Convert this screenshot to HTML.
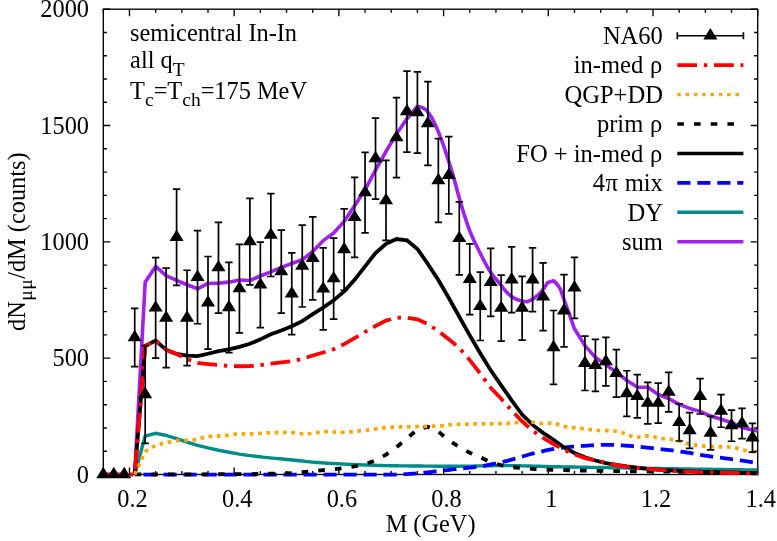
<!DOCTYPE html>
<html><head><meta charset="utf-8"><title>plot</title>
<style>html,body{margin:0;padding:0;background:#fff;}body{width:777px;height:541px;overflow:hidden;font-family:"Liberation Serif",serif;}</style>
</head><body>
<svg width="777" height="541" viewBox="0 0 777 541" style="display:block;will-change:transform">
<rect width="777" height="541" fill="#fff"/>
<rect x="103.3" y="9.2" width="654.40" height="465.30" fill="none" stroke="#000" stroke-width="1.35"/>
<path d="M103.30,474.5 v-3.6 M103.30,9.2 v3.6 M129.48,474.5 v-7.0 M129.48,9.2 v7.0 M155.65,474.5 v-3.6 M155.65,9.2 v3.6 M181.83,474.5 v-3.6 M181.83,9.2 v3.6 M208.00,474.5 v-3.6 M208.00,9.2 v3.6 M234.18,474.5 v-7.0 M234.18,9.2 v7.0 M260.36,474.5 v-3.6 M260.36,9.2 v3.6 M286.53,474.5 v-3.6 M286.53,9.2 v3.6 M312.71,474.5 v-3.6 M312.71,9.2 v3.6 M338.88,474.5 v-7.0 M338.88,9.2 v7.0 M365.06,474.5 v-3.6 M365.06,9.2 v3.6 M391.24,474.5 v-3.6 M391.24,9.2 v3.6 M417.41,474.5 v-3.6 M417.41,9.2 v3.6 M443.59,474.5 v-7.0 M443.59,9.2 v7.0 M469.76,474.5 v-3.6 M469.76,9.2 v3.6 M495.94,474.5 v-3.6 M495.94,9.2 v3.6 M522.12,474.5 v-3.6 M522.12,9.2 v3.6 M548.29,474.5 v-7.0 M548.29,9.2 v7.0 M574.47,474.5 v-3.6 M574.47,9.2 v3.6 M600.64,474.5 v-3.6 M600.64,9.2 v3.6 M626.82,474.5 v-3.6 M626.82,9.2 v3.6 M653.00,474.5 v-7.0 M653.00,9.2 v7.0 M679.17,474.5 v-3.6 M679.17,9.2 v3.6 M705.35,474.5 v-3.6 M705.35,9.2 v3.6 M731.52,474.5 v-3.6 M731.52,9.2 v3.6 M757.70,474.5 v-7.0 M757.70,9.2 v7.0 M103.3,474.50 h7.0 M757.7,474.50 h-7.0 M103.3,451.24 h3.6 M757.7,451.24 h-3.6 M103.3,427.97 h3.6 M757.7,427.97 h-3.6 M103.3,404.70 h3.6 M757.7,404.70 h-3.6 M103.3,381.44 h3.6 M757.7,381.44 h-3.6 M103.3,358.18 h7.0 M757.7,358.18 h-7.0 M103.3,334.91 h3.6 M757.7,334.91 h-3.6 M103.3,311.64 h3.6 M757.7,311.64 h-3.6 M103.3,288.38 h3.6 M757.7,288.38 h-3.6 M103.3,265.12 h3.6 M757.7,265.12 h-3.6 M103.3,241.85 h7.0 M757.7,241.85 h-7.0 M103.3,218.59 h3.6 M757.7,218.59 h-3.6 M103.3,195.32 h3.6 M757.7,195.32 h-3.6 M103.3,172.06 h3.6 M757.7,172.06 h-3.6 M103.3,148.79 h3.6 M757.7,148.79 h-3.6 M103.3,125.53 h7.0 M757.7,125.53 h-7.0 M103.3,102.26 h3.6 M757.7,102.26 h-3.6 M103.3,79.00 h3.6 M757.7,79.00 h-3.6 M103.3,55.73 h3.6 M757.7,55.73 h-3.6 M103.3,32.47 h3.6 M757.7,32.47 h-3.6 M103.3,9.20 h7.0 M757.7,9.20 h-7.0" stroke="#000" stroke-width="1.35" fill="none"/>
<path d="M134.70,474.50 L145.18,282.36 L155.65,266.40 L166.12,275.67 L176.59,280.30 L187.06,284.72 L197.53,288.80 L208.00,283.44 L218.47,283.10 L228.94,282.16 L239.42,280.00 L249.89,280.50 L260.36,276.03 L270.83,271.81 L281.30,267.42 L291.77,263.48 L302.24,259.73 L312.71,251.54 L323.18,240.63 L333.65,233.01 L344.12,221.55 L354.59,205.87 L365.06,189.84 L375.53,170.01 L386.00,151.50 L396.47,134.06 L406.94,118.75 L417.41,106.52 L417.60,106.50 L419.60,106.75 L421.60,107.39 L423.60,108.25 L425.60,109.63 L427.60,111.80 L429.60,114.40 L431.60,117.44 L433.60,121.22 L435.60,125.43 L437.60,129.88 L439.60,134.81 L441.60,140.09 L443.60,145.70 L445.60,151.77 L447.60,157.99 L449.60,164.14 L451.60,170.46 L453.60,177.26 L455.60,184.59 L457.60,192.02 L459.60,199.14 L461.60,206.02 L463.60,212.65 L465.60,218.91 L467.60,224.90 L469.60,230.35 L471.60,235.20 L473.60,239.72 L475.60,243.97 L477.60,248.04 L479.60,252.02 L481.60,255.97 L483.60,259.89 L485.60,263.71 L487.60,267.33 L489.60,270.67 L491.60,273.64 L493.60,276.28 L495.60,278.70 L497.60,281.03 L499.60,283.41 L501.60,285.95 L503.60,288.58 L505.60,291.02 L507.60,293.09 L509.60,294.96 L511.60,296.60 L513.60,297.87 L515.60,298.88 L517.60,299.74 L519.60,300.39 L521.60,300.91 L523.60,301.38 L527.20,301.80 L533.30,298.90 L539.90,293.30 L544.40,287.70 L547.70,282.40 L553.80,280.70 L557.70,285.00 L560.50,289.40 L563.80,298.80 L566.60,306.60 L571.00,318.80 L574.30,328.50 L584.94,345.66 L595.41,357.40 L605.88,364.85 L616.35,372.11 L626.82,380.40 L637.29,387.10 L647.76,387.32 L658.23,394.51 L668.70,398.66 L679.17,404.35 L689.64,408.41 L700.11,411.37 L710.58,416.09 L721.05,419.19 L731.52,422.61 L741.99,427.47 L752.46,429.91 L757.70,431.00" fill="none" stroke="#a020f0" stroke-width="3.6" stroke-linejoin="round" stroke-linecap="butt"/>
<path d="M134.70,474.50 L145.18,436.15 L155.65,433.30 L166.12,435.31 L176.59,438.67 L187.06,442.01 L197.53,445.32 L208.00,447.96 L218.47,450.23 L228.94,452.24 L239.42,454.06 L249.89,455.61 L252.39,455.93 L254.89,456.23 L257.39,456.52 L259.89,456.80 L262.39,457.07 L264.89,457.32 L267.39,457.58 L269.89,457.83 L272.39,458.07 L274.89,458.32 L277.39,458.57 L279.89,458.80 L282.39,459.03 L284.89,459.26 L287.39,459.48 L289.89,459.71 L292.39,459.94 L294.89,460.19 L297.39,460.45 L299.89,460.74 L302.39,461.04 L304.89,461.34 L307.39,461.63 L309.89,461.91 L312.39,462.16 L314.89,462.38 L317.39,462.57 L319.89,462.75 L322.39,462.92 L324.89,463.07 L327.39,463.22 L329.89,463.36 L332.39,463.50 L334.89,463.63 L337.39,463.76 L339.89,463.88 L342.39,464.01 L344.89,464.13 L347.39,464.25 L349.89,464.37 L352.39,464.49 L354.89,464.60 L357.39,464.70 L359.89,464.80 L362.39,464.90 L364.89,464.99 L367.39,465.07 L369.89,465.15 L372.39,465.24 L374.89,465.32 L377.39,465.39 L379.89,465.46 L382.39,465.53 L384.89,465.59 L387.39,465.64 L389.89,465.69 L392.39,465.73 L394.89,465.77 L397.39,465.80 L399.89,465.84 L402.39,465.87 L404.89,465.89 L407.39,465.92 L409.89,465.95 L412.39,465.97 L414.89,465.99 L417.39,466.02 L419.89,466.04 L422.39,466.07 L424.89,466.10 L427.39,466.12 L429.89,466.15 L432.39,466.17 L434.89,466.18 L437.39,466.19 L439.89,466.20 L442.39,466.20 L444.89,466.20 L447.39,466.20 L449.89,466.20 L452.39,466.20 L454.89,466.20 L457.39,466.20 L459.89,466.20 L462.39,466.20 L464.89,466.20 L467.39,466.19 L469.89,466.16 L472.39,466.11 L474.89,466.05 L477.39,465.98 L479.89,465.91 L482.39,465.85 L484.89,465.80 L487.39,465.77 L489.89,465.73 L492.39,465.70 L494.89,465.67 L497.39,465.64 L499.89,465.62 L502.39,465.61 L504.89,465.60 L507.39,465.61 L509.89,465.62 L512.39,465.65 L514.89,465.68 L517.39,465.72 L519.89,465.77 L522.39,465.83 L524.89,465.89 L527.39,465.95 L529.89,466.02 L532.39,466.09 L534.89,466.16 L537.39,466.23 L539.89,466.31 L542.39,466.38 L544.89,466.45 L547.39,466.52 L549.89,466.58 L552.39,466.64 L554.89,466.69 L557.39,466.74 L559.89,466.79 L562.39,466.84 L564.89,466.88 L567.39,466.93 L569.89,466.98 L572.39,467.02 L574.89,467.07 L577.39,467.11 L579.89,467.15 L582.39,467.20 L584.89,467.24 L587.39,467.28 L589.89,467.33 L592.39,467.37 L594.89,467.41 L597.39,467.46 L599.89,467.50 L602.39,467.55 L604.89,467.59 L607.39,467.63 L609.89,467.68 L612.39,467.72 L614.89,467.77 L617.39,467.81 L619.89,467.86 L622.39,467.90 L624.89,467.94 L627.39,467.99 L629.89,468.03 L632.39,468.08 L634.89,468.12 L637.39,468.16 L639.89,468.21 L642.39,468.25 L644.89,468.29 L647.39,468.34 L649.89,468.38 L652.39,468.42 L654.89,468.46 L657.39,468.50 L659.89,468.54 L662.39,468.58 L664.89,468.62 L667.39,468.66 L669.89,468.70 L672.39,468.74 L674.89,468.78 L677.39,468.82 L679.89,468.86 L682.39,468.90 L684.89,468.94 L687.39,468.98 L689.89,469.02 L692.39,469.06 L694.89,469.09 L697.39,469.13 L699.89,469.17 L702.39,469.21 L704.89,469.25 L707.39,469.28 L709.89,469.32 L712.39,469.36 L714.89,469.40 L717.39,469.43 L719.89,469.47 L722.39,469.51 L724.89,469.54 L727.39,469.58 L729.89,469.61 L732.39,469.65 L734.89,469.69 L737.39,469.72 L739.89,469.76 L742.39,469.79 L744.89,469.83 L747.39,469.86 L749.89,469.89 L752.39,469.93 L754.89,469.96 L757.39,470.00 L757.70,470.00" fill="none" stroke="#008b8b" stroke-width="3.4" stroke-linejoin="miter" stroke-linecap="butt"/>
<path d="M143.50,474.70 L145.18,474.70 L155.65,474.70 L166.12,474.70 L176.59,474.70 L187.06,474.70 L197.53,474.70 L208.00,474.70 L218.47,474.70 L228.94,474.70 L239.42,474.70 L249.89,474.70 L252.39,474.70 L254.89,474.70 L257.39,474.70 L259.89,474.70 L262.39,474.70 L264.89,474.70 L267.39,474.70 L269.89,474.70 L272.39,474.70 L274.89,474.70 L277.39,474.70 L279.89,474.70 L282.39,474.70 L284.89,474.70 L287.39,474.70 L289.89,474.70 L292.39,474.70 L294.89,474.70 L297.39,474.70 L299.89,474.70 L302.39,474.70 L304.89,474.70 L307.39,474.70 L309.89,474.70 L312.39,474.70 L314.89,474.70 L317.39,474.70 L319.89,474.70 L322.39,474.70 L324.89,474.70 L327.39,474.70 L329.89,474.70 L332.39,474.70 L334.89,474.70 L337.39,474.70 L339.89,474.70 L342.39,474.70 L344.89,474.70 L347.39,474.70 L349.89,474.70 L352.39,474.70 L354.89,474.70 L357.39,474.70 L359.89,474.70 L362.39,474.70 L364.89,474.70 L367.39,474.70 L369.89,474.70 L372.39,474.70 L374.89,474.70 L377.39,474.70 L379.89,474.70 L382.39,474.70 L384.89,474.70 L387.39,474.70 L389.89,474.70 L392.39,474.69 L394.89,474.64 L397.39,474.57 L399.89,474.46 L402.39,474.34 L404.89,474.20 L407.39,474.04 L409.89,473.88 L412.39,473.71 L414.89,473.54 L417.39,473.36 L419.89,473.15 L422.39,472.91 L424.89,472.65 L427.39,472.36 L429.89,472.07 L432.39,471.77 L434.89,471.46 L437.39,471.16 L439.89,470.88 L442.39,470.60 L444.89,470.33 L447.39,470.04 L449.89,469.76 L452.39,469.48 L454.89,469.20 L457.39,468.92 L459.89,468.64 L462.39,468.36 L464.89,468.09 L467.39,467.82 L469.89,467.58 L472.39,467.34 L474.89,467.09 L477.39,466.82 L479.89,466.51 L482.39,466.14 L484.89,465.71 L487.39,465.23 L489.89,464.73 L492.39,464.22 L494.89,463.71 L497.39,463.18 L499.89,462.63 L502.39,462.05 L504.89,461.45 L507.39,460.81 L509.89,460.12 L512.39,459.41 L514.89,458.68 L517.39,457.96 L519.89,457.23 L522.39,456.47 L524.89,455.72 L527.39,454.98 L529.89,454.28 L532.39,453.63 L534.89,453.01 L537.39,452.40 L539.89,451.82 L542.39,451.27 L544.89,450.72 L547.39,450.19 L549.89,449.67 L552.39,449.19 L554.89,448.76 L557.39,448.38 L559.89,448.03 L562.39,447.70 L564.89,447.41 L567.39,447.14 L569.89,446.90 L572.39,446.69 L574.89,446.50 L577.39,446.31 L579.89,446.14 L582.39,445.96 L584.89,445.78 L587.39,445.62 L589.89,445.46 L592.39,445.33 L594.89,445.20 L597.39,445.06 L599.89,444.94 L602.39,444.85 L604.89,444.80 L607.39,444.81 L609.89,444.87 L612.39,444.96 L614.89,445.06 L617.39,445.17 L619.89,445.29 L622.39,445.43 L624.89,445.59 L627.39,445.77 L629.89,445.95 L632.39,446.14 L634.89,446.34 L637.39,446.56 L639.89,446.79 L642.39,447.03 L644.89,447.28 L647.39,447.55 L649.89,447.83 L652.39,448.12 L654.89,448.42 L657.39,448.71 L659.89,449.00 L662.39,449.29 L664.89,449.58 L667.39,449.88 L669.89,450.18 L672.39,450.48 L674.89,450.79 L677.39,451.12 L679.89,451.45 L682.39,451.80 L684.89,452.17 L687.39,452.57 L689.89,452.99 L692.39,453.43 L694.89,453.87 L697.39,454.32 L699.89,454.76 L702.39,455.19 L704.89,455.60 L707.39,455.98 L709.89,456.34 L712.39,456.69 L714.89,457.02 L717.39,457.34 L719.89,457.66 L722.39,457.97 L724.89,458.28 L727.39,458.60 L729.89,458.93 L732.39,459.27 L734.89,459.62 L737.39,459.97 L739.89,460.33 L742.39,460.69 L744.89,461.06 L747.39,461.43 L749.89,461.81 L752.39,462.18 L754.89,462.57 L757.39,462.95 L757.70,463.00" fill="none" stroke="#0000ff" stroke-width="3.8" stroke-linejoin="miter" stroke-linecap="butt" stroke-dasharray="13.2 6.8" stroke-dashoffset="0"/>
<path d="M134.70,474.50 L145.18,345.92 L155.65,340.50 L166.12,349.82 L176.59,353.92 L187.06,355.67 L197.53,356.18 L208.00,353.77 L218.47,351.19 L228.94,349.29 L239.42,346.86 L249.89,343.83 L260.36,339.37 L270.83,334.26 L281.30,330.52 L291.77,326.31 L302.24,321.20 L312.71,314.15 L323.18,307.56 L333.65,300.34 L344.12,291.35 L354.59,279.87 L365.06,266.36 L375.53,252.97 L386.00,243.84 L396.47,239.01 L406.94,240.39 L417.41,248.93 L427.88,263.97 L438.35,279.93 L448.82,297.98 L459.29,316.71 L469.76,335.39 L480.23,353.20 L490.70,370.29 L501.18,385.38 L511.65,400.37 L522.12,414.55 L532.59,424.90 L543.06,432.87 L553.53,439.77 L564.00,447.48 L574.47,453.03 L584.94,457.26 L595.41,460.52 L605.88,463.03 L616.35,464.91 L626.82,466.47 L637.29,467.75 L647.76,468.78 L658.23,469.64 L668.70,470.37 L679.17,470.88 L689.64,471.32 L700.11,471.73 L710.58,472.11 L721.05,472.43 L731.52,472.70 L741.99,472.89 L752.46,472.99 L757.70,473.00" fill="none" stroke="#000" stroke-width="3.8" stroke-linejoin="miter" stroke-linecap="butt"/>
<path d="M134.70,474.40 L145.18,474.40 L155.65,474.39 L166.12,474.38 L176.59,474.36 L187.06,474.34 L197.53,474.31 L208.00,474.28 L218.47,474.24 L228.94,474.20 L239.42,474.15 L249.89,474.05 L260.36,473.90 L270.83,473.70 L281.30,473.45 L291.77,473.13 L302.24,472.23 L312.71,471.04 L323.18,470.10 L333.65,469.20 L344.12,468.01 L354.59,466.45 L365.06,464.26 L375.53,460.28 L386.00,454.58 L396.47,447.24 L406.94,438.41 L417.41,429.41 L427.88,426.86 L438.35,431.62 L448.82,440.23 L459.29,447.14 L469.76,452.67 L480.23,457.22 L490.70,462.26 L501.18,465.22 L511.65,467.09 L522.12,468.19 L532.59,468.90 L543.06,469.42 L553.53,469.80 L564.00,470.10 L574.47,470.37 L584.94,470.62 L595.41,470.83 L605.88,471.01 L616.35,471.14 L626.82,471.25 L637.29,471.34 L647.76,471.43 L658.23,471.52 L668.70,471.63 L679.17,471.75 L689.64,471.89 L700.11,472.04 L710.58,472.19 L721.05,472.36 L731.52,472.53 L741.99,472.71 L752.46,472.90 L757.70,473.00" fill="none" stroke="#000" stroke-width="3.8" stroke-linejoin="miter" stroke-linecap="butt" stroke-dasharray="6.6 10.1" stroke-dashoffset="0"/>
<path d="M134.70,474.50 L145.18,451.52 L155.65,445.42 L158.15,444.62 L160.65,443.96 L163.15,443.39 L165.65,442.85 L168.15,442.32 L170.65,441.83 L173.15,441.39 L175.65,440.95 L178.15,440.52 L180.65,440.30 L183.15,440.30 L185.65,440.30 L188.15,440.30 L190.65,440.26 L193.15,440.03 L195.65,439.68 L198.15,439.25 L200.65,438.40 L203.15,437.42 L205.65,436.79 L208.15,436.55 L210.65,436.39 L213.15,436.24 L215.65,436.08 L218.15,435.94 L220.65,435.79 L223.15,435.63 L225.65,435.47 L228.15,435.29 L230.65,435.06 L233.15,434.59 L235.65,434.02 L238.15,433.71 L240.65,433.77 L243.15,433.94 L245.65,434.08 L248.15,434.08 L250.65,433.97 L253.15,433.82 L255.65,433.66 L258.15,433.48 L260.65,433.28 L263.15,433.11 L265.65,432.95 L268.15,432.80 L270.65,432.71 L273.15,432.70 L275.65,432.70 L278.15,432.70 L280.65,432.68 L283.15,432.51 L285.65,432.30 L288.15,432.20 L290.65,432.36 L293.15,432.69 L295.65,433.04 L298.15,433.33 L300.65,433.65 L303.15,433.87 L305.65,433.88 L308.15,433.74 L310.65,433.49 L313.15,433.17 L315.65,432.80 L318.15,432.43 L320.65,432.10 L323.15,431.82 L325.65,431.65 L328.15,431.60 L330.65,431.70 L333.15,431.89 L335.65,432.09 L338.15,432.25 L340.65,432.30 L343.15,432.25 L345.65,432.15 L348.15,431.99 L350.65,431.79 L353.15,431.56 L355.65,431.31 L358.15,431.04 L360.65,430.78 L363.15,430.51 L365.65,430.27 L368.15,429.99 L370.65,429.67 L373.15,429.33 L375.65,428.96 L378.15,428.60 L380.65,428.25 L383.15,427.93 L385.65,427.65 L388.15,427.43 L390.65,427.29 L393.15,427.19 L395.65,427.10 L398.15,427.02 L400.65,426.96 L403.15,426.90 L405.65,426.84 L408.15,426.79 L410.65,426.73 L413.15,426.67 L415.65,426.60 L418.15,426.52 L420.65,426.46 L423.15,426.39 L425.65,426.33 L428.15,426.26 L430.65,426.19 L433.15,426.11 L435.65,426.02 L438.15,425.92 L440.65,425.80 L443.15,425.61 L445.65,425.33 L448.15,425.00 L450.65,424.69 L453.15,424.44 L455.65,424.30 L458.15,424.23 L460.65,424.17 L463.15,424.12 L465.65,424.08 L468.15,424.05 L470.65,424.01 L473.15,423.98 L475.65,423.96 L478.15,423.92 L480.65,423.89 L483.15,423.86 L485.65,423.84 L488.15,423.81 L490.65,423.79 L493.15,423.77 L495.65,423.75 L498.15,423.72 L500.65,423.68 L503.15,423.64 L505.65,423.59 L508.15,423.46 L510.65,423.26 L513.15,423.02 L515.65,422.76 L518.15,422.52 L520.65,422.33 L523.15,422.17 L525.65,422.02 L528.15,421.92 L530.65,421.95 L533.15,422.25 L535.65,422.65 L538.15,422.97 L540.65,423.27 L543.15,423.51 L545.65,423.60 L548.15,423.37 L550.65,423.01 L553.15,422.80 L555.65,423.30 L558.15,424.47 L560.65,425.59 L563.15,426.17 L565.65,426.60 L568.15,426.97 L570.65,427.32 L573.15,427.64 L575.65,427.94 L578.15,428.22 L580.65,428.45 L583.15,428.66 L585.65,428.90 L588.15,429.25 L590.65,429.72 L593.15,430.15 L595.65,430.35 L598.15,430.46 L600.65,430.55 L603.15,430.60 L605.65,430.63 L608.15,430.65 L610.65,430.69 L613.15,430.84 L615.65,431.23 L618.15,431.74 L620.65,432.27 L623.15,432.91 L625.65,433.66 L628.15,434.54 L630.65,435.89 L633.15,437.13 L635.65,437.48 L638.15,437.20 L640.65,436.74 L643.15,436.39 L645.65,436.13 L648.15,435.91 L650.65,435.80 L653.15,436.24 L655.65,437.38 L658.15,438.36 L660.65,438.61 L663.15,438.72 L665.65,438.82 L668.15,439.00 L670.65,439.32 L673.15,439.74 L675.65,440.21 L678.15,440.82 L680.65,441.57 L683.15,442.37 L685.65,443.14 L688.15,443.79 L690.65,444.26 L693.15,444.67 L695.65,445.07 L698.15,445.43 L700.65,445.76 L703.15,446.05 L705.65,446.29 L708.15,446.48 L710.65,446.61 L713.15,446.69 L715.65,446.75 L718.15,446.79 L720.65,446.83 L723.15,446.86 L725.65,446.91 L728.15,446.98 L730.65,447.07 L733.15,447.31 L735.65,447.90 L738.15,448.66 L740.65,449.42 L743.15,450.01 L745.65,450.50 L748.15,450.96 L750.65,451.39 L753.15,451.78 L755.65,452.14 L757.70,452.40" fill="none" stroke="#ffa500" stroke-width="3.7" stroke-linejoin="miter" stroke-linecap="butt" stroke-dasharray="3.7 4.6" stroke-dashoffset="0"/>
<path d="M103.30,474.50 L134.70,474.50 L145.18,345.92 L155.65,340.50 L166.12,349.82 L176.59,353.98 L187.06,359.19 L197.53,362.97 L208.00,364.05 L218.47,365.03 L228.94,365.94 L239.42,366.24 L249.89,366.19 L260.36,365.18 L270.83,363.73 L281.30,362.46 L291.77,361.13 L302.24,358.85 L312.71,355.54 L323.18,352.50 L333.65,349.19 L344.12,344.18 L354.59,338.04 L365.06,331.93 L375.53,326.04 L386.00,320.62 L396.47,317.75 L406.94,317.63 L417.41,319.38 L427.88,324.13 L438.35,331.18 L448.82,339.22 L459.29,347.89 L469.76,360.12 L480.23,373.53 L490.70,387.77 L501.18,398.80 L511.65,410.51 L522.12,421.49 L532.59,430.68 L543.06,438.01 L553.53,444.06 L564.00,449.81 L574.47,454.44 L584.94,458.07 L595.41,460.51 L605.88,462.74 L616.35,465.19 L626.82,466.81 L637.29,467.93 L647.76,468.96 L658.23,469.86 L668.70,470.64 L679.17,471.18 L689.64,471.62 L700.11,472.04 L710.58,472.41 L721.05,472.74 L731.52,473.00 L741.99,473.19 L752.46,473.29 L757.70,473.30" fill="none" stroke="#ff0000" stroke-width="3.8" stroke-linejoin="miter" stroke-linecap="butt" stroke-dasharray="19.8 6.7 3.5 6.7" stroke-dashoffset="0"/>
<path d="M134.71,308.39 V366.55 M131.01,308.39 h7.4 M131.01,366.55 h7.4 M145.18,345.61 V443.32 M141.48,345.61 h7.4 M141.48,443.32 h7.4 M155.65,257.67 V358.18 M151.95,257.67 h7.4 M151.95,358.18 h7.4 M166.12,268.14 V367.71 M162.42,268.14 h7.4 M162.42,367.71 h7.4 M176.59,189.04 V285.36 M172.89,189.04 h7.4 M172.89,285.36 h7.4 M187.06,270.23 V365.62 M183.36,270.23 h7.4 M183.36,365.62 h7.4 M197.53,230.68 V323.74 M193.83,230.68 h7.4 M193.83,323.74 h7.4 M208.00,256.51 V349.10 M204.30,256.51 h7.4 M204.30,349.10 h7.4 M218.47,222.31 V313.04 M214.77,222.31 h7.4 M214.77,313.04 h7.4 M228.94,262.32 V352.59 M225.24,262.32 h7.4 M225.24,352.59 h7.4 M239.42,244.41 V332.82 M235.72,244.41 h7.4 M235.72,332.82 h7.4 M249.89,198.34 V284.89 M246.19,198.34 h7.4 M246.19,284.89 h7.4 M260.36,242.08 V327.70 M256.66,242.08 h7.4 M256.66,327.70 h7.4 M270.83,193.69 V276.51 M267.13,193.69 h7.4 M267.13,276.51 h7.4 M281.30,230.22 V313.04 M277.60,230.22 h7.4 M277.60,313.04 h7.4 M291.77,252.78 V334.68 M288.07,252.78 h7.4 M288.07,334.68 h7.4 M302.24,225.10 V306.99 M298.54,225.10 h7.4 M298.54,306.99 h7.4 M312.71,216.96 V299.78 M309.01,216.96 h7.4 M309.01,299.78 h7.4 M323.18,247.90 V329.79 M319.48,247.90 h7.4 M319.48,329.79 h7.4 M333.65,238.13 V319.09 M329.95,238.13 h7.4 M329.95,319.09 h7.4 M344.12,208.81 V290.24 M340.42,208.81 h7.4 M340.42,290.24 h7.4 M354.59,177.41 V257.44 M350.89,177.41 h7.4 M350.89,257.44 h7.4 M365.06,152.28 V232.78 M361.36,152.28 h7.4 M361.36,232.78 h7.4 M375.53,118.08 V199.04 M371.83,118.08 h7.4 M371.83,199.04 h7.4 M386.00,160.42 V240.45 M382.30,160.42 h7.4 M382.30,240.45 h7.4 M396.47,97.61 V177.64 M392.77,97.61 h7.4 M392.77,177.64 h7.4 M406.94,71.08 V152.05 M403.24,71.08 h7.4 M403.24,152.05 h7.4 M417.41,71.78 V153.21 M413.71,71.78 h7.4 M413.71,153.21 h7.4 M427.88,81.55 V165.31 M424.18,81.55 h7.4 M424.18,165.31 h7.4 M438.35,138.55 V222.31 M434.65,138.55 h7.4 M434.65,222.31 h7.4 M448.82,136.69 V213.93 M445.12,136.69 h7.4 M445.12,213.93 h7.4 M459.29,201.83 V274.89 M455.59,201.83 h7.4 M455.59,274.89 h7.4 M469.76,243.94 V314.67 M466.06,243.94 h7.4 M466.06,314.67 h7.4 M480.23,272.09 V340.49 M476.53,272.09 h7.4 M476.53,340.49 h7.4 M490.70,248.36 V316.30 M487.00,248.36 h7.4 M487.00,316.30 h7.4 M501.18,275.12 V341.19 M497.48,275.12 h7.4 M497.48,341.19 h7.4 M511.65,246.97 V312.58 M507.95,246.97 h7.4 M507.95,312.58 h7.4 M522.12,276.28 V340.03 M518.42,276.28 h7.4 M518.42,340.03 h7.4 M532.59,247.90 V311.64 M528.89,247.90 h7.4 M528.89,311.64 h7.4 M543.06,262.79 V330.72 M539.36,262.79 h7.4 M539.36,330.72 h7.4 M553.53,310.48 V384.46 M549.83,310.48 h7.4 M549.83,384.46 h7.4 M564.00,274.65 V346.78 M560.30,274.65 h7.4 M560.30,346.78 h7.4 M574.47,257.44 V318.39 M570.77,257.44 h7.4 M570.77,318.39 h7.4 M584.94,336.07 V390.51 M581.24,336.07 h7.4 M581.24,390.51 h7.4 M595.41,339.33 V391.44 M591.71,339.33 h7.4 M591.71,391.44 h7.4 M605.88,337.47 V385.86 M602.18,337.47 h7.4 M602.18,385.86 h7.4 M616.35,349.57 V397.03 M612.65,349.57 h7.4 M612.65,397.03 h7.4 M626.82,370.74 V416.34 M623.12,370.74 h7.4 M623.12,416.34 h7.4 M637.29,374.69 V417.97 M633.59,374.69 h7.4 M633.59,417.97 h7.4 M647.76,382.37 V423.78 M644.06,382.37 h7.4 M644.06,423.78 h7.4 M658.23,383.07 V423.08 M654.53,383.07 h7.4 M654.53,423.08 h7.4 M668.70,372.37 V411.92 M665.00,372.37 h7.4 M665.00,411.92 h7.4 M679.17,403.77 V441.00 M675.47,403.77 h7.4 M675.47,441.00 h7.4 M689.64,412.62 V448.44 M685.94,412.62 h7.4 M685.94,448.44 h7.4 M700.11,378.65 V414.01 M696.41,378.65 h7.4 M696.41,414.01 h7.4 M710.58,416.34 V449.84 M706.88,416.34 h7.4 M706.88,449.84 h7.4 M721.05,394.70 V427.27 M717.35,394.70 h7.4 M717.35,427.27 h7.4 M731.52,410.06 V441.23 M727.82,410.06 h7.4 M727.82,441.23 h7.4 M741.99,408.43 V438.67 M738.29,408.43 h7.4 M738.29,438.67 h7.4 M752.46,423.32 V452.17 M748.76,423.32 h7.4 M748.76,452.17 h7.4" stroke="#000" stroke-width="1.7" fill="none"/>
<path d="M103.30,466.80 L110.35,478.20 L96.25,478.20 Z M113.77,466.80 L120.82,478.20 L106.72,478.20 Z M124.24,466.80 L131.29,478.20 L117.19,478.20 Z M134.71,329.77 L141.76,341.17 L127.66,341.17 Z M145.18,386.77 L152.23,398.17 L138.13,398.17 Z M155.65,300.22 L162.70,311.62 L148.60,311.62 Z M166.12,310.23 L173.17,321.63 L159.07,321.63 Z M176.59,229.50 L183.64,240.90 L169.54,240.90 Z M187.06,310.23 L194.11,321.63 L180.01,321.63 Z M197.53,269.51 L204.58,280.91 L190.48,280.91 Z M208.00,295.10 L215.05,306.50 L200.95,306.50 Z M218.47,259.97 L225.52,271.37 L211.42,271.37 Z M228.94,299.76 L235.99,311.16 L221.89,311.16 Z M239.42,280.91 L246.47,292.31 L232.37,292.31 Z M249.89,233.92 L256.94,245.32 L242.84,245.32 Z M260.36,277.19 L267.41,288.59 L253.31,288.59 Z M270.83,227.40 L277.88,238.80 L263.78,238.80 Z M281.30,263.93 L288.35,275.33 L274.25,275.33 Z M291.77,286.03 L298.82,297.43 L284.72,297.43 Z M302.24,258.35 L309.29,269.75 L295.19,269.75 Z M312.71,250.67 L319.76,262.07 L305.66,262.07 Z M323.18,281.15 L330.23,292.55 L316.13,292.55 Z M333.65,270.91 L340.70,282.31 L326.60,282.31 Z M344.12,241.83 L351.17,253.23 L337.07,253.23 Z M354.59,209.72 L361.64,221.12 L347.54,221.12 Z M365.06,184.83 L372.11,196.23 L358.01,196.23 Z M375.53,150.86 L382.58,162.26 L368.48,162.26 Z M386.00,192.74 L393.05,204.14 L378.95,204.14 Z M396.47,129.92 L403.52,141.32 L389.42,141.32 Z M406.94,103.87 L413.99,115.27 L399.89,115.27 Z M417.41,104.80 L424.46,116.20 L410.36,116.20 Z M427.88,115.73 L434.93,127.13 L420.83,127.13 Z M438.35,172.73 L445.40,184.13 L431.30,184.13 Z M448.82,167.61 L455.87,179.01 L441.77,179.01 Z M459.29,230.66 L466.34,242.06 L452.24,242.06 Z M469.76,271.61 L476.81,283.01 L462.71,283.01 Z M480.23,298.59 L487.28,309.99 L473.18,309.99 Z M490.70,274.63 L497.75,286.03 L483.65,286.03 Z M501.18,300.46 L508.23,311.86 L494.13,311.86 Z M511.65,272.07 L518.70,283.47 L504.60,283.47 Z M522.12,300.46 L529.17,311.86 L515.07,311.86 Z M532.59,272.07 L539.64,283.47 L525.54,283.47 Z M543.06,289.06 L550.11,300.46 L536.01,300.46 Z M553.53,339.77 L560.58,351.17 L546.48,351.17 Z M564.00,303.01 L571.05,314.41 L556.95,314.41 Z M574.47,280.21 L581.52,291.61 L567.42,291.61 Z M584.94,355.59 L591.99,366.99 L577.89,366.99 Z M595.41,357.69 L602.46,369.09 L588.36,369.09 Z M605.88,353.96 L612.93,365.36 L598.83,365.36 Z M616.35,365.60 L623.40,377.00 L609.30,377.00 Z M626.82,385.84 L633.87,397.24 L619.77,397.24 Z M637.29,388.63 L644.34,400.03 L630.24,400.03 Z M647.76,395.38 L654.81,406.78 L640.71,406.78 Z M658.23,395.38 L665.28,406.78 L651.18,406.78 Z M668.70,384.44 L675.75,395.84 L661.65,395.84 Z M679.17,414.69 L686.22,426.09 L672.12,426.09 Z M689.64,422.83 L696.69,434.23 L682.59,434.23 Z M700.11,388.63 L707.16,400.03 L693.06,400.03 Z M710.58,425.39 L717.63,436.79 L703.53,436.79 Z M721.05,403.29 L728.10,414.69 L714.00,414.69 Z M731.52,417.94 L738.57,429.34 L724.47,429.34 Z M741.99,415.85 L749.04,427.25 L734.94,427.25 Z M752.46,430.04 L759.51,441.44 L745.41,441.44 Z" fill="#000" stroke="none"/>
<text x="662.90" y="43.93" text-anchor="end" font-family='"Liberation Serif", serif' font-size="24.55">NA60</text>
<text x="649.42" y="73.36" text-anchor="end" font-family='"Liberation Serif", serif' font-size="24.55">in-med&#160;</text>
<text x="656.16" y="73.36" text-anchor="middle" font-family='"Liberation Serif", serif' font-size="24.55">ρ</text>
<text x="662.90" y="102.79" text-anchor="end" font-family='"Liberation Serif", serif' font-size="24.55">QGP+DD</text>
<text x="649.42" y="132.22" text-anchor="end" font-family='"Liberation Serif", serif' font-size="24.55">prim&#160;</text>
<text x="656.16" y="132.22" text-anchor="middle" font-family='"Liberation Serif", serif' font-size="24.55">ρ</text>
<text x="649.42" y="161.65" text-anchor="end" font-family='"Liberation Serif", serif' font-size="24.55">FO + in-med&#160;</text>
<text x="656.16" y="161.65" text-anchor="middle" font-family='"Liberation Serif", serif' font-size="24.55">ρ</text>
<text x="662.90" y="191.08" text-anchor="end" font-family='"Liberation Serif", serif' font-size="24.55">&#160;mix</text>
<text x="611.82" y="191.08" text-anchor="middle" font-family='"Liberation Serif", serif' font-size="24.55">π</text>
<text x="605.08" y="191.08" text-anchor="end" font-family='"Liberation Serif", serif' font-size="24.55">4</text>
<text x="662.90" y="220.51" text-anchor="end" font-family='"Liberation Serif", serif' font-size="24.55">DY</text>
<text x="662.90" y="249.94" text-anchor="end" font-family='"Liberation Serif", serif' font-size="24.55">sum</text>
<path d="M677.3,35.73 H743.4 M677.3,32.23 v7 M743.4,32.23 v7" stroke="#000" stroke-width="1.7" fill="none"/>
<path d="M710.35,28.03 L717.40,39.43 L703.30,39.43 Z" fill="#000"/>
<path d="M677.3,65.16 H743.4" stroke="#ff0000" stroke-width="3.6" fill="none" stroke-dasharray="19.8 6.7 3.5 6.7"/>
<path d="M677.3,94.59 H743.4" stroke="#ffa500" stroke-width="3.4" fill="none" stroke-dasharray="3.5 4.8"/>
<path d="M677.3,124.02 H743.4" stroke="#000" stroke-width="3.6" fill="none" stroke-dasharray="6.6 10.1"/>
<path d="M677.3,153.45 H743.4" stroke="#000" stroke-width="3.6" fill="none"/>
<path d="M677.3,182.88 H743.4" stroke="#0000ff" stroke-width="3.6" fill="none" stroke-dasharray="13.2 6.8"/>
<path d="M677.3,212.31 H743.4" stroke="#008b8b" stroke-width="3.6" fill="none"/>
<path d="M677.3,241.74 H743.4" stroke="#a020f0" stroke-width="3.6" fill="none"/>
<text x="89.0" y="482.70" text-anchor="end" font-family='"Liberation Serif", serif' font-size="24.35">0</text>
<text x="89.0" y="366.38" text-anchor="end" font-family='"Liberation Serif", serif' font-size="24.35">500</text>
<text x="89.0" y="250.05" text-anchor="end" font-family='"Liberation Serif", serif' font-size="24.35">1000</text>
<text x="89.0" y="133.73" text-anchor="end" font-family='"Liberation Serif", serif' font-size="24.35">1500</text>
<text x="89.0" y="17.40" text-anchor="end" font-family='"Liberation Serif", serif' font-size="24.35">2000</text>
<text x="132.48" y="507.4" text-anchor="middle" font-family='"Liberation Serif", serif' font-size="24.35">0.2</text>
<text x="237.18" y="507.4" text-anchor="middle" font-family='"Liberation Serif", serif' font-size="24.35">0.4</text>
<text x="341.88" y="507.4" text-anchor="middle" font-family='"Liberation Serif", serif' font-size="24.35">0.6</text>
<text x="446.59" y="507.4" text-anchor="middle" font-family='"Liberation Serif", serif' font-size="24.35">0.8</text>
<text x="551.29" y="507.4" text-anchor="middle" font-family='"Liberation Serif", serif' font-size="24.35">1</text>
<text x="656.00" y="507.4" text-anchor="middle" font-family='"Liberation Serif", serif' font-size="24.35">1.2</text>
<text x="760.70" y="507.4" text-anchor="middle" font-family='"Liberation Serif", serif' font-size="24.35">1.4</text>
<text x="430.6" y="531.6" text-anchor="middle" font-family='"Liberation Serif", serif' font-size="24.35">M (GeV)</text>
<g transform="translate(24.5,331) rotate(-90)" font-family='"Liberation Serif", serif' font-size="24.35"><text x="0" y="0">dN</text><text x="35.37" y="7.2" font-size="19.48" text-anchor="middle">μ</text><text x="46.59" y="7.2" font-size="19.48" text-anchor="middle">μ</text><text x="52.20" y="0">/dM (counts)</text></g>
<text x="130.1" y="40.8" font-family='"Liberation Serif", serif' font-size="24.35">semicentral In-In</text>
<text x="130.1" y="68.4" font-family='"Liberation Serif", serif' font-size="24.35">all q<tspan dy="7.1" font-size="19.48">T</tspan></text>
<text x="130.1" y="98.8" font-family='"Liberation Serif", serif' font-size="24.35">T<tspan dy="7.0" font-size="19.48">c</tspan><tspan dy="-7.0">=T</tspan><tspan dy="7.0" font-size="19.48">ch</tspan><tspan dy="-7.0">=175 MeV</tspan></text>
</svg>
</body></html>
